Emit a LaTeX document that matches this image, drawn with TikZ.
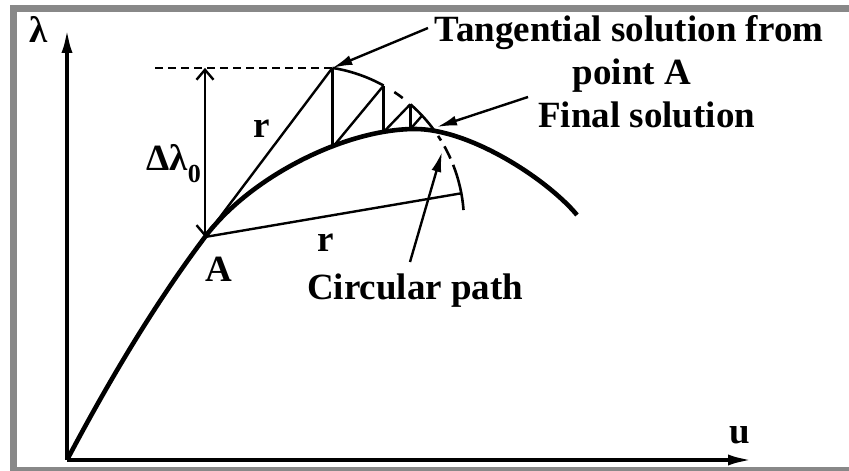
\documentclass[tikz,border=0pt]{standalone}
\usepackage{fontspec}
\setmainfont{Liberation Serif}
\usetikzlibrary{arrows.meta}
\definecolor{framegray}{HTML}{888888}
\begin{document}
\begin{tikzpicture}[x=1pt,y=1pt,
  lbl/.style={font=\fontsize{37}{43}\selectfont\bfseries, inner sep=0pt},
  thinl/.style={line width=2.4pt},
  arcl/.style={line width=2.6pt},
  axisl/.style={line width=4pt, -{Latex[length=25pt,width=11pt]}},
  callout/.style={line width=2.4pt, -{Latex[length=20pt,width=10pt]}},
  dimarrow/.style={line width=2.4pt, {Straight Barb[length=10pt,width=17pt]}-{Straight Barb[length=10pt,width=17pt]}},
  curvel/.style={line width=4.6pt},
  guide/.style={line width=2.2pt, dash pattern=on 8pt off 5pt}
]
\useasboundingbox (0,0) rectangle (849,471);
% frame
\fill[framegray] (10,459) rectangle (849,466);
\fill[framegray] (10,0) rectangle (17,466);
\fill[framegray] (10,0) rectangle (849,4);

% key points
\coordinate (O) at (67,11);
\coordinate (ytip) at (67,443);
\coordinate (xtip) at (753,11);
\coordinate (A) at (205,234);
\coordinate (Pk) at (415,342);
\coordinate (E) at (577,256);
\coordinate (C) at (308,249);
\coordinate (P1) at (332.4,403.1);
\coordinate (P2) at (383.6,385.4);
\coordinate (P3) at (410.3,366.7);
\coordinate (Q) at (422.1,355.4);
\coordinate (F) at (435.3,339.1);
\coordinate (R) at (461.3,277.7);
\coordinate (C1) at (332.4,323.5);
\coordinate (C2) at (383.6,339);
\coordinate (C3) at (410.3,341.9);
\coordinate (dashL) at (155,403.1);
\coordinate (dtop) at (205,403.1);

% axes
\draw[axisl] (O) -- (ytip);
\draw[axisl] (O) -- (xtip);

% main curve
\draw[curvel, line join=round] (O) .. controls (113,98) and (159,173) .. (A)
  .. controls (250,294) and (345,342) .. (Pk)
  .. controls (470,342) and (547,292) .. (E);

% arc (circle centre C, radius 156)
\draw[arcl] (C) ++(81:156) arc[start angle=81, end angle=61, radius=156];
\draw[arcl] (C) ++(56.4:156) arc[start angle=56.4, end angle=52.6, radius=156];
\draw[arcl] (C) ++(49:156) arc[start angle=49, end angle=35.3, radius=156];
\draw[arcl] (C) ++(33.5:156) arc[start angle=33.5, end angle=31.5, radius=156];
\draw[arcl] (C) ++(29:156) arc[start angle=29, end angle=24, radius=156];
\draw[arcl] (C) ++(21.5:156) arc[start angle=21.5, end angle=4.4, radius=156];

% tangential steps
\draw[thinl] (A) -- (P1);
\draw[thinl] (P1) -- (C1);
\draw[thinl] (C1) -- (P2);
\draw[thinl] (P2) -- (C2);
\draw[thinl] (C2) -- (P3);
\draw[thinl] (P3) -- (C3);
\draw[thinl] (C3) -- (Q);

% radius to circular path
\draw[thinl] (A) -- (R);

% guide and delta lambda
\draw[guide] (dashL) -- (P1);
\draw[dimarrow] (A) -- (dtop);

% labels
\node[lbl, anchor=base] (lam) at (39,428) {λ};
\node[lbl, anchor=base] (ulbl) at (740,27) {u};
\node[lbl, anchor=base] (t1) at (629,429) {Tangential solution from};
\node[lbl, anchor=base] (t2) at (632,386) {point A};
\node[lbl, anchor=base west] (fin) at (538,343) {Final solution};
\node[lbl, anchor=base west] (circ) at (307,171) {Circular path};
\node[lbl, anchor=base west] (alab) at (205,189) {A};
\node[lbl, anchor=base] (r1) at (262,333) {r};
\node[lbl, anchor=base] (r2) at (326,219) {r};
\node[lbl, anchor=base east] (dl) at (201,300) {Δλ\raisebox{-0.32em}{\fontsize{26}{26}\selectfont 0}};

% callouts
\coordinate (tT) at (428,443);
\coordinate (tF) at (528,374);
\coordinate (hF) at (437,344);
\coordinate (tC) at (410,209);
\coordinate (hC) at (442,319);
\draw[callout] (tT) -- (P1);
\draw[callout] (tF) -- (hF);
\draw[callout] (tC) -- (hC);
\end{tikzpicture}
\end{document}
